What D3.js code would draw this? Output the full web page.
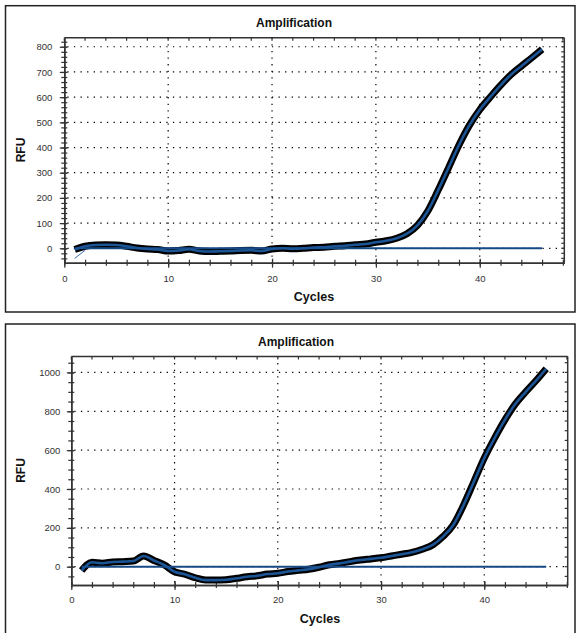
<!DOCTYPE html>
<html><head><meta charset="utf-8">
<script src="https://cdn.jsdelivr.net/npm/d3@7"></script>
<style>body{margin:0;background:#fff}svg{display:block}</style>
</head><body><svg id="c" width="576" height="633"></svg>
<script>
// ---- data ----
const cycles = [1,2,3,4,5,6,7,8,9,10,11,12,13,14,15,16,17,18,19,20,21,22,23,24,25,26,27,28,29,30,31,32,33,34,35,36,37,38,39,40,41,42,43,44,45,46];
const rfuTop = [-5,8,13,14,13,8,1,-3,-5,-11,-9,-4,-11,-13,-12,-11,-9,-8,-11,-3,0,-2,0,3,4,8,10,14,17,24,30,40,58,91,148,231,320,410,488,550,600,647,689,723,756,790];
const rawTopCycles = [1,2];
const rawTop = [-40,-8];
const rfuBottom = [-20,23,18,24,26,29,55,32,9,-26,-39,-57,-69,-69,-67,-60,-52,-47,-38,-34,-25,-19,-13,-3,10,17,26,34,40,46,55,64,74,90,112,155,215,318,438,559,662,756,837,899,957,1019];
const baselineCycles = [1,46];
const baselineValues = [0,0];
const xTickValues = [0,10,20,30,40];
const yTicksTop = [0,100,200,300,400,500,600,700,800];
const yTicksBottom = [0,200,400,600,800,1000];
const titleText = "Amplification";
const xLabelText = "Cycles";
const yLabelText = "RFU";

// ---- drawing ----
const svg = d3.select("#c");
const FONT = "'Liberation Sans', Arial, sans-serif";

function drawPanel(cfg){
  const g = svg.append("g");
  const x = d3.scaleLinear().domain(cfg.xDomain).range([cfg.left, cfg.right]);
  const y = d3.scaleLinear().domain(cfg.yDomain).range([cfg.bottom, cfg.top]);

  // outer box
  g.append("rect").attr("x",5.5).attr("y",cfg.boxTop).attr("width",569.5).attr("height",cfg.boxH)
    .attr("fill","none").attr("stroke","#222").attr("stroke-width",1.5);

  // grid
  const dash = "1.3,5.3";
  g.selectAll(".hg").data(cfg.yTicks).join("line")
    .attr("x1",cfg.left+3).attr("x2",cfg.right).attr("y1",d=>y(d)).attr("y2",d=>y(d))
    .attr("stroke","#000").attr("stroke-width",1.2).attr("stroke-dasharray",dash);
  g.selectAll(".vg").data(xTickValues.filter(d=>d>0)).join("line")
    .attr("y1",cfg.top).attr("y2",cfg.bottom).attr("x1",d=>x(d)).attr("x2",d=>x(d))
    .attr("stroke","#000").attr("stroke-width",1.2).attr("stroke-dasharray",dash);

  // frame top / right with small inward ticks
  g.append("line").attr("x1",cfg.left).attr("x2",cfg.right).attr("y1",cfg.top).attr("y2",cfg.top)
    .attr("stroke","#333").attr("stroke-width",1.5);
  g.append("line").attr("x1",cfg.right).attr("x2",cfg.right).attr("y1",cfg.top).attr("y2",cfg.bottom)
    .attr("stroke","#333").attr("stroke-width",1.5);
  const xMinor = d3.range(cfg.xDomain[0], cfg.xDomain[1], 2);
  g.selectAll(".tt").data(xMinor).join("line")
    .attr("x1",d=>x(d)).attr("x2",d=>x(d)).attr("y1",cfg.top).attr("y2",cfg.top+3)
    .attr("stroke","#333").attr("stroke-width",1.2);
  const yMinor = d3.range(Math.ceil(cfg.yDomain[0]/cfg.yMinorStep)*cfg.yMinorStep, cfg.yDomain[1], cfg.yMinorStep);
  g.selectAll(".rt").data(yMinor).join("line")
    .attr("x1",cfg.right-3).attr("x2",cfg.right).attr("y1",d=>y(d)).attr("y2",d=>y(d))
    .attr("stroke","#333").attr("stroke-width",1.2);

  // left axis: minor then major
  const ax = g.append("g").attr("transform",`translate(${cfg.left},0)`);
  ax.call(d3.axisLeft(y).tickValues(yMinor).tickFormat("").tickSizeInner(3).tickSizeOuter(0));
  ax.selectAll(".tick line").attr("x1",3).attr("stroke","#333").attr("stroke-width",1.2);
  const axM = g.append("g").attr("transform",`translate(${cfg.left},0)`);
  axM.call(d3.axisLeft(y).tickValues(cfg.yTicks).tickFormat(d3.format("d")).tickSizeInner(4.5).tickSizeOuter(0).tickPadding(cfg.yPad));
  axM.selectAll(".tick line").attr("x1",3).attr("stroke","#333").attr("stroke-width",1.2);
  [ax,axM].forEach(a=>a.select(".domain").attr("stroke","#333").attr("stroke-width",1.5));
  axM.selectAll("text").attr("font-family",FONT).attr("font-size",9.5).attr("fill","#333");

  // bottom axis
  const bx = g.append("g").attr("transform",`translate(0,${cfg.bottom})`);
  bx.call(d3.axisBottom(x).tickValues(xMinor).tickFormat("").tickSizeInner(3).tickSizeOuter(0));
  bx.selectAll(".tick line").attr("y1",-3).attr("stroke","#333").attr("stroke-width",1.2);
  const bxM = g.append("g").attr("transform",`translate(0,${cfg.bottom})`);
  bxM.call(d3.axisBottom(x).tickValues(xTickValues).tickFormat(d3.format("d")).tickSizeInner(5).tickSizeOuter(0).tickPadding(cfg.xPad));
  bxM.selectAll(".tick line").attr("y1",-4).attr("stroke","#333").attr("stroke-width",1.2);
  [bx,bxM].forEach(a=>a.select(".domain").attr("stroke","#333").attr("stroke-width",1.5));
  bxM.selectAll("text").attr("font-family",FONT).attr("font-size",9.5).attr("fill","#333");

  // lines
  const bl = baselineCycles.map((c,i)=>({c, v: baselineValues[i]}));
  const line = d3.line().x(d=>x(d.c)).y(d=>y(d.v));
  const sline = d3.line().x(d=>x(d.c)).y(d=>y(d.v)).curve(d3.curveMonotoneX);
  if (cfg.raw){
    const rw = cfg.rawCycles.map((c,i)=>({c, v: cfg.raw[i]}));
    g.append("path").attr("d",line(rw)).attr("fill","none").attr("stroke","#3a6fb0").attr("stroke-width",1);
  }
  const pts = cycles.map((c,i)=>({c, v: cfg.values[i]}));
  g.append("path").attr("d",sline(pts)).attr("fill","none").attr("stroke","#000")
    .attr("stroke-width",7).attr("stroke-linejoin","round");
  g.append("path").attr("d",line(bl)).attr("fill","none").attr("stroke","#164a87").attr("stroke-width",2);
  g.append("path").attr("d",sline(pts)).attr("fill","none").attr("stroke","#1c5596")
    .attr("stroke-width",2.6).attr("stroke-linejoin","round");

  // texts
  g.append("text").attr("x",cfg.titleX).attr("y",cfg.titleY).attr("text-anchor","middle")
    .attr("font-family",FONT).attr("font-weight","bold").attr("font-size",12).attr("fill","#111").text(titleText);
  g.append("text").attr("x",cfg.xLabX).attr("y",cfg.xLabY).attr("text-anchor","middle")
    .attr("font-family",FONT).attr("font-weight","bold").attr("font-size",12.5).attr("fill","#111").text(xLabelText);
  g.append("text").attr("transform",`translate(${cfg.yLabX},${cfg.yLabY}) rotate(-90)`).attr("text-anchor","middle")
    .attr("font-family",FONT).attr("font-weight","bold").attr("font-size",12).attr("fill","#111").text(yLabelText);
}

drawPanel({boxTop:5.7, boxH:306.3, left:64.3, right:564.3, top:37.7, bottom:262.7,
  xDomain:[0,48.14], yDomain:[-57.2,836], yTicks:yTicksTop, yMinorStep:20, values:rfuTop,
  raw:rawTop, rawCycles:rawTopCycles,
  yPad:7.5, xPad:7.5, titleX:294, titleY:26.5, xLabX:314, xLabY:301, yLabX:24.5, yLabY:150});
drawPanel({boxTop:324, boxH:330, left:71.3, right:567.7, top:356.5, bottom:585,
  xDomain:[0,48.08], yDomain:[-94.3,1082], yTicks:yTicksBottom, yMinorStep:50, values:rfuBottom,
  yPad:6.5, xPad:6.5, titleX:296, titleY:345.5, xLabX:320, xLabY:623, yLabX:24.5, yLabY:470.5});
</script></body></html>
